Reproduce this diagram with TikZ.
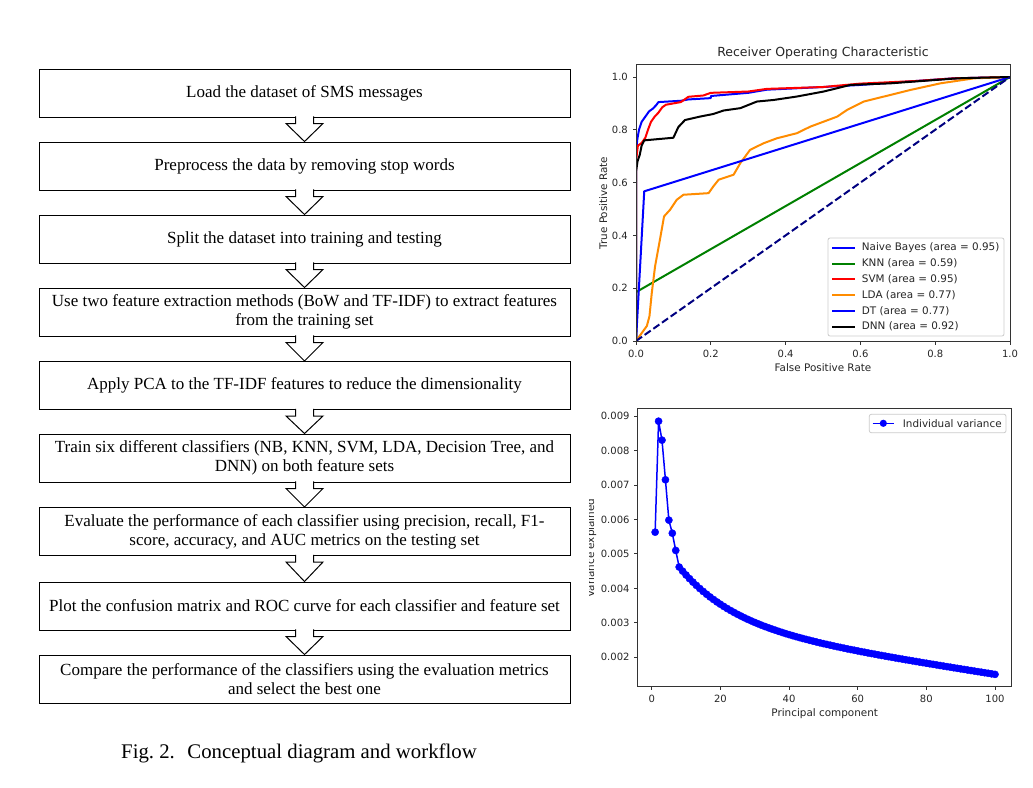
\documentclass[tikz,border=0pt]{standalone}
\usepackage{fontspec}
\setmainfont{Liberation Serif}
\newfontfamily\plotfont{DejaVu Sans}
\usetikzlibrary{calc}
\definecolor{mplgreen}{RGB}{0,128,0}
\definecolor{mplorange}{RGB}{255,140,0}
\definecolor{mplnavy}{RGB}{0,0,128}
\tikzset{
  stepbox/.style={draw, line width=1pt, minimum width=531pt, minimum height=48pt,
    align=center, inner sep=0pt, font=\fontsize{17}{19}\selectfont},
  hollow/.style={draw, fill=white, line width=1pt, to path={
    ($(\tikztostart.south)+(-9,-1.2)$) -- ($(\tikztostart.south)+(-9,6)$)
    -- ($(\tikztostart.south)+(-18.5,6)$) -- (\tikztotarget.north)
    -- ($(\tikztostart.south)+(18.5,6)$) -- ($(\tikztostart.south)+(9,6)$)
    -- ($(\tikztostart.south)+(9,-1.2)$)}},
  axisframe/.style={draw=black!80, line width=0.8pt},
  ticklabel/.style={font=\plotfont\fontsize{10}{12}\selectfont, text=black!85, inner sep=0pt},
  axislabel/.style={font=\plotfont\fontsize{10.4}{12}\selectfont, text=black!85, inner sep=0pt},
  roc/.style={line width=2pt, line join=round},
  legendbox/.style={draw=black!20, fill=white, rounded corners=2pt, line width=0.8pt},
}
\begin{document}
\begin{tikzpicture}[x=1pt, y=-1pt]
  \useasboundingbox[fill=white] (0,0) rectangle (1033,787);
  % workflow
  \node[stepbox] (load) at (304.5,93) {Load the dataset of SMS messages};
  \node[stepbox] (prep) at (304.5,166) {Preprocess the data by removing stop words};
  \node[stepbox] (split) at (304.5,239) {Split the dataset into training and testing};
  \node[stepbox] (extract) at (304.5,312) {Use two feature extraction methods (BoW and TF-IDF) to extract features\\from the training set};
  \node[stepbox] (pca) at (304.5,385.5) {Apply PCA to the TF-IDF features to reduce the dimensionality};
  \node[stepbox] (train) at (304.5,458) {Train six different classifiers (NB, KNN, SVM, LDA, Decision Tree, and\\DNN) on both feature sets};
  \node[stepbox] (eval) at (304.5,531.5) {Evaluate the performance of each classifier using precision, recall, F1-\\score, accuracy, and AUC metrics on the testing set};
  \node[stepbox] (plot) at (304.5,606) {Plot the confusion matrix and ROC curve for each classifier and feature set};
  \node[stepbox] (best) at (304.5,679) {Compare the performance of the classifiers using the evaluation metrics\\and select the best one};
  \draw[hollow] (load) to (prep);
  \draw[hollow] (prep) to (split);
  \draw[hollow] (split) to (extract);
  \draw[hollow] (extract) to (pca);
  \draw[hollow] (pca) to (train);
  \draw[hollow] (train) to (eval);
  \draw[hollow] (eval) to (plot);
  \draw[hollow] (plot) to (best);
  \node[anchor=west, inner sep=0pt, font=\fontsize{20.8}{24}\selectfont] (caption) at (121,753) {Fig.~2.\hspace{0.6em}Conceptual diagram and workflow};

  % ROC curves
  \begin{scope}
    \clip (636,64) rectangle (1010,341);
    \begin{scope}[shift={(636,341)}, x=374pt, y=264pt]
      \draw[roc, blue] plot coordinates {(0,0) (0,0.70) (0.003,0.76) (0.008,0.80) (0.015,0.83) (0.025,0.85) (0.035,0.87) (0.045,0.88) (0.055,0.895) (0.06,0.905) (0.12,0.91) (0.14,0.915) (0.2,0.92) (0.2,0.928) (0.3,0.94) (0.35,0.952) (0.5,0.962) (0.6,0.97) (0.75,0.985) (0.85,0.995) (1,1)};
      \draw[roc, mplgreen] plot coordinates {(0,0) (0,0.185) (1,1)};
      \draw[roc, red] plot coordinates {(0,0) (0,0.68) (0.005,0.74) (0.015,0.75) (0.025,0.77) (0.032,0.8) (0.04,0.83) (0.05,0.85) (0.06,0.865) (0.07,0.885) (0.08,0.895) (0.1,0.9) (0.12,0.905) (0.13,0.915) (0.14,0.925) (0.18,0.93) (0.2,0.94) (0.3,0.945) (0.35,0.955) (0.5,0.962) (0.6,0.975) (0.75,0.985) (0.85,0.995) (1,1)};
      \draw[roc, mplorange] plot coordinates {(0,0) (0.029,0.057) (0.036,0.094) (0.042,0.18) (0.051,0.283) (0.064,0.384) (0.075,0.472) (0.091,0.497) (0.109,0.535) (0.127,0.554) (0.194,0.56) (0.207,0.586) (0.221,0.611) (0.261,0.63) (0.279,0.674) (0.305,0.724) (0.341,0.749) (0.377,0.768) (0.43,0.787) (0.466,0.812) (0.538,0.85) (0.564,0.875) (0.609,0.907) (0.663,0.926) (0.734,0.951) (0.814,0.976) (0.904,0.995) (1,1)};
      \draw[roc, blue] plot coordinates {(0,0) (0.022,0.567) (1,1)};
      \draw[roc, black] plot coordinates {(0,0) (0,0.64) (0.004,0.68) (0.01,0.705) (0.015,0.74) (0.022,0.76) (0.1,0.77) (0.113,0.81) (0.131,0.837) (0.171,0.85) (0.207,0.86) (0.234,0.873) (0.279,0.882) (0.323,0.907) (0.368,0.913) (0.43,0.926) (0.502,0.945) (0.573,0.97) (0.68,0.976) (0.86,0.995) (1,1)};
      \draw[roc, mplnavy, dash pattern=on 7.4pt off 3.2pt] (0,0) -- (1,1);
    \end{scope}
  \end{scope}
  \draw[axisframe] (636,64) rectangle (1010,341);
  \foreach \v [count=\i] in {0.0,0.2,0.4,0.6,0.8,1.0} {
    \draw[axisframe] ({636+374*\v},341) -- ++(0,3.5);
    \node[ticklabel, anchor=north] (rocx\i) at ({636+374*\v},349.5) {\v};
    \draw[axisframe] (636,{341-264*\v}) -- ++(-3.5,0);
    \node[ticklabel, anchor=east] (rocy\i) at (628,{341-264*\v}) {\v};
  }
  \node[font=\plotfont\fontsize{12.5}{14}\selectfont, text=black!85, inner sep=0pt] (roctitle) at (823,53) {Receiver Operating Characteristic};
  \node[axislabel] (rocxlabel) at (823,368) {False Positive Rate};
  \node[axislabel, rotate=90, anchor=base] (rocylabel) at (607,203) {True Positive Rate};
  \draw[legendbox] (828,238) rectangle (1004,336);
  \draw[roc, blue] (832,247.7) -- (855,247.7);
  \node[axislabel, anchor=west] (nbkey) at (861.7,247.7) {Naive Bayes (area = 0.95)};
  \draw[roc, mplgreen] (832,263.5) -- (855,263.5);
  \node[axislabel, anchor=west] (knnkey) at (861.7,263.5) {KNN (area = 0.59)};
  \draw[roc, red] (832,279.3) -- (855,279.3);
  \node[axislabel, anchor=west] (svmkey) at (861.7,279.3) {SVM (area = 0.95)};
  \draw[roc, mplorange] (832,295.1) -- (855,295.1);
  \node[axislabel, anchor=west] (ldakey) at (861.7,295.1) {LDA (area = 0.77)};
  \draw[roc, blue] (832,310.9) -- (855,310.9);
  \node[axislabel, anchor=west] (dtkey) at (861.7,310.9) {DT (area = 0.77)};
  \draw[roc, black] (832,326.7) -- (855,326.7);
  \node[axislabel, anchor=west] (dnnkey) at (861.7,326.7) {DNN (area = 0.92)};

  % explained variance
  \begin{scope}[shift={(651.7,657.3)}, x=3.433pt, y=34.47pt]
    \draw[blue, line width=1.5pt, line join=round, mark=*, mark size=3.6pt, mark options={line width=0.4pt}]
      plot coordinates {(1,3.63) (2,6.85) (3,6.3) (4,5.15) (5,3.98) (6,3.6) (7,3.1)}
      -- plot[domain=8:100, samples=93] (\x,{1.05-0.0155*\x+2.79*exp(-\x/16)});
  \end{scope}
  \draw[axisframe] (637.7,408.3) rectangle (1011.7,686.7);
  \foreach \v [count=\i] in {0,20,40,60,80,100} {
    \draw[axisframe] ({651.7+3.433*\v},686.7) -- ++(0,3.5);
    \node[ticklabel, anchor=north] (varx\i) at ({651.7+3.433*\v},694.5) {\v};
  }
  \foreach \k in {2,...,9} {
    \draw[axisframe] (637.7,{657.3-34.47*(\k-2)}) -- ++(-3.5,0);
    \node[ticklabel, anchor=east] (vary\k) at (629.7,{657.3-34.47*(\k-2)}) {0.00\k};
  }
  \node[axislabel] (varxlabel) at (824.7,714) {Principal component};
  \begin{scope}
    \clip (589,470) rectangle (600,630);
    \node[axislabel, rotate=90, anchor=base] (varylabel) at (594,548) {Variance explained};
  \end{scope}
  \draw[legendbox] (869.3,414.3) rectangle (1006,432.7);
  \draw[blue, line width=1.5pt] (872.7,423.3) -- (894,423.3);
  \fill[blue] (883.3,423.3) circle (3.6);
  \node[axislabel, anchor=west] (varkey) at (902.7,423.3) {Individual variance};
\end{tikzpicture}
\end{document}
